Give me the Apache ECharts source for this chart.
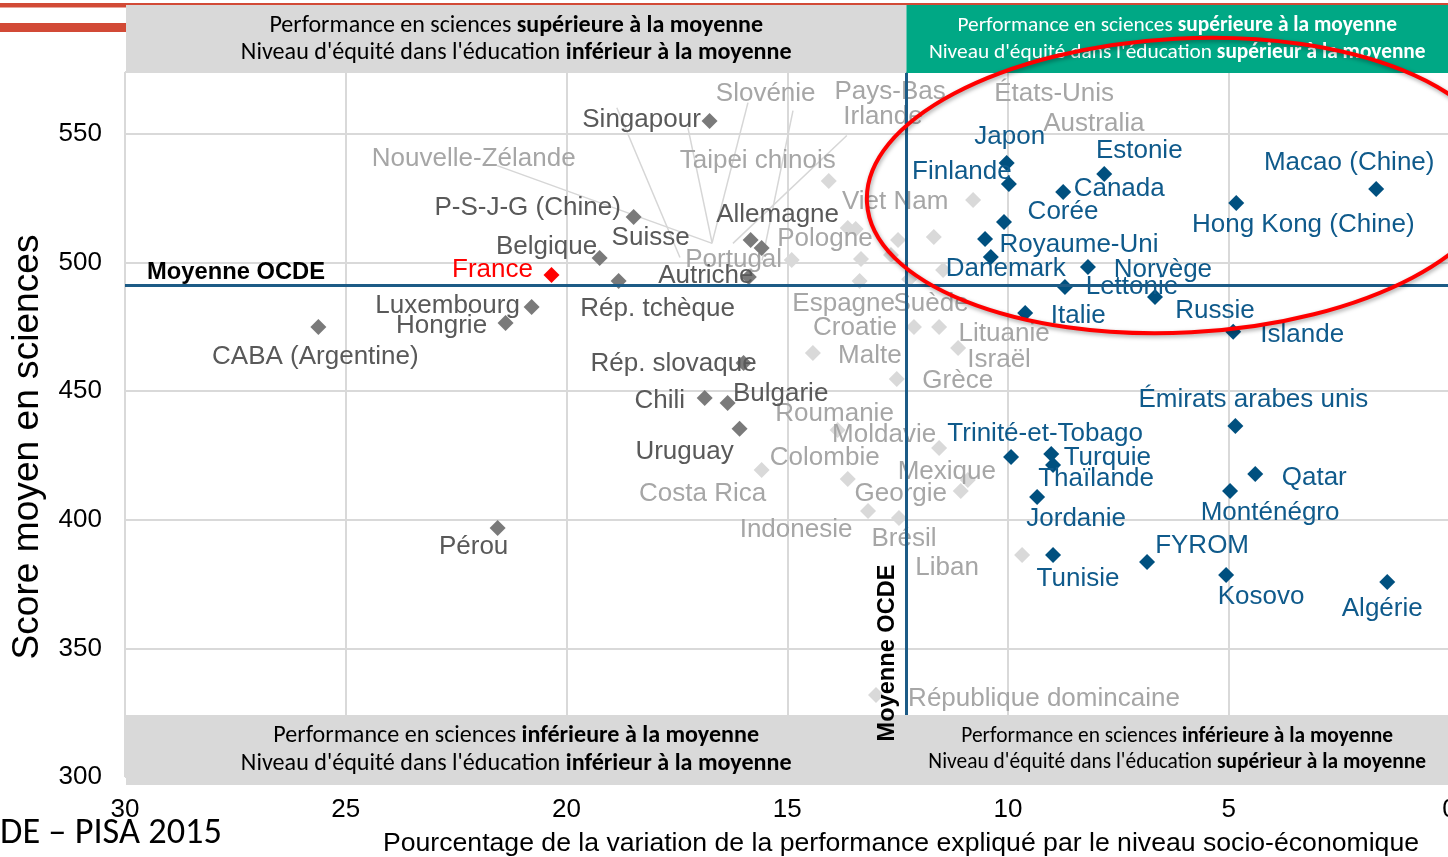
<!DOCTYPE html>
<html><head><meta charset="utf-8">
<script src="https://cdn.jsdelivr.net/npm/echarts@6/dist/echarts.min.js"></script>
<style>html,body{margin:0;padding:0;background:#fff;overflow:hidden}#c{width:1448px;height:857px}</style>
</head><body><div id="c"></div>
<script>
// ---------------- DATA ----------------
// x = % of science performance variation explained by socio-economic status, y = mean science score
const xTickMin = 0, xTickMax = 30, xTickStep = 5;
const yTickMin = 300, yTickMax = 574, yTickStep = 50;

const blueNames = ['Japon','Finlande','Estonie','Canada','Corée','Royaume-Uni','Danemark','Norvège','Lettonie','Russie','Italie','Islande','Hong Kong (Chine)','Macao (Chine)','Émirats arabes unis','Trinité-et-Tobago','Turquie','Thaïlande','Jordanie','Qatar','Monténégro','Tunisie','FYROM','Kosovo','Algérie'];
const blueX = [10.03,9.98,7.82,8.75,10.09,10.52,10.39,8.19,8.71,6.67,9.61,4.90,4.83,1.66,4.85,9.93,9.02,8.98,9.34,4.40,4.97,8.98,6.85,5.06,1.41];
const blueY = [538.6,530.5,534.4,527.4,515.7,509.1,502.1,498.2,490.4,486.6,480.3,473.0,523.1,528.5,436.4,424.4,425.5,421.3,408.8,417.8,411.2,386.3,383.6,378.5,375.8];

const darkNames = ['Singapour','P-S-J-G (Chine)','Belgique','Suisse','Allemagne','Autriche','Rép. tchèque','Luxembourg','Hongrie','CABA (Argentine)','Rép. slovaque','Chili','Bulgarie','Uruguay','Pérou'];
const darkX = [16.76,18.48,19.25,15.58,15.83,15.87,18.82,20.79,21.38,25.62,15.99,16.87,16.35,16.08,21.56];
const darkY = [555.0,517.6,501.7,505.6,508.7,494.3,492.8,482.7,476.4,474.9,460.9,447.3,445.4,435.3,396.8];

const lightNames = ['Taipei chinois','Nouvelle-Zélande','Slovénie','Portugal','Pologne','Pays-Bas','Irlande','Espagne','Suède','Viet Nam','Australia','États-Unis','Croatie','Lituanie','Israël','Malte','Grèce','Roumanie','Moldavie','Costa Rica','Colombie','Mexique','Georgie','Indonesie','Brésil','Liban','République domincaine'];
const lightX = [14.06,13.63,13.45,14.90,13.33,12.49,12.65,13.36,12.24,10.79,11.68,11.47,12.13,11.56,11.13,14.42,12.52,13.86,11.56,15.58,13.63,10.91,11.07,13.17,12.47,9.68,12.99];
const lightY = [531.6,513.4,513.0,500.9,501.3,508.7,502.9,492.8,493.5,524.3,509.9,497.0,474.9,474.9,466.7,464.8,454.7,434.9,427.9,419.3,415.8,415.4,411.2,403.4,400.7,386.3,331.9];

const franceNames = ['France'];
const franceX = [20.34];
const franceY = [495.1];

const oecdMeanX = 12.3;
const oecdMeanY = 491;

// annotation leader lines (data coordinates: label end -> target end)
const leaderLines = [
  [[21.57,537.6],[16.70,507.4]],
  [[18.86,560.1],[17.43,501.9]],
  [[17.25,552.4],[16.70,507.4]],
  [[15.89,562.1],[16.70,507.8]],
  [[14.87,559.0],[15.57,500.8]],
  [[13.65,549.3],[16.23,507.4]]
];

// ---------------- STYLE ----------------
const labelOffset = {
  'Japon':[3,-28],'Finlande':[-47,-14],'Estonie':[35,-25],'Canada':[56,-5],'Corée':[59,-12],'Royaume-Uni':[94,4],
  'Danemark':[15,10],'Norvège':[75,1],'Lettonie':[67,-2],'Russie':[60,12],'Italie':[53,1],'Islande':[69,1],
  'Hong Kong (Chine)':[67,20],'Macao (Chine)':[-27,-28],'Émirats arabes unis':[18,-28],'Trinité-et-Tobago':[34,-25],
  'Turquie':[56,2],'Thaïlande':[43,12],'Jordanie':[39,20],'Qatar':[59,2],'Monténégro':[40,20],'Tunisie':[25,22],
  'FYROM':[55,-18],'Kosovo':[35,20],'Algérie':[-5,25],
  'Singapour':[-68,-3],'P-S-J-G (Chine)':[-106,-11],'Belgique':[-53,-13],'Suisse':[-111,-12],'Allemagne':[27,-27],
  'Autriche':[-43,-3],'Rép. tchèque':[39,26],'Luxembourg':[-84,-3],'Hongrie':[-64,1],'CABA (Argentine)':[-3,28],
  'Rép. slovaque':[-70,-1],'Chili':[-45,1],'Bulgarie':[53,-11],'Uruguay':[-55,21],'Pérou':[-24,17],'France':[-59,-7],
  'Taipei chinois':[-71,-22],'Nouvelle-Zélande':[-374,-71],'Slovénie':[-90,-137],'Portugal':[-58,-2],'Pologne':[-36,-22],
  'Pays-Bas':[-8,-150],'Irlande':[-8,-140],'Espagne':[-16,21],'Suède':[22,23],'Viet Nam':[-78,0],'Australia':[160,-115],
  'États-Unis':[111,-178],'Croatie':[-59,-1],'Lituanie':[65,5],'Israël':[41,10],'Malte':[57,1],'Grèce':[61,0],
  'Roumanie':[-3,-18],'Moldavie':[-55,-15],'Costa Rica':[-59,22],'Colombie':[-23,-23],'Mexique':[-21,-10],
  'Georgie':[-60,1],'Indonesie':[-72,17],'Brésil':[5,19],'Liban':[-75,11],'République domincaine':[168,2]
};
const labelNudgeY = 2;

const SANS = "'Liberation Sans', Arial, sans-serif";
const BAND_FONT = "Carlito, Lato, 'Open Sans', sans-serif";

function mkSeries(name, names, xs, ys, markerColor, labelColor, z) {
  return {
    name: name, type: 'scatter', symbol: 'diamond', symbolSize: 16, z: z,
    itemStyle: { color: markerColor, opacity: 1 },
    label: { show: true, position: 'inside', formatter: '{b}', color: labelColor, fontSize: 26, fontFamily: SANS },
    emphasis: { disabled: true },
    data: names.map((n, i) => {
      const o = labelOffset[n] || [0, 0];
      return { name: n, value: [xs[i], ys[i]], label: { offset: [o[0], o[1] + labelNudgeY] } };
    })
  };
}

const chart = echarts.init(document.getElementById('c'), null, { renderer: 'canvas' });

const option = {
  animation: false,
  backgroundColor: '#ffffff',
  grid: { left: 125, right: -1.5, top: 72, bottom: 80, containLabel: false, outerBoundsMode: 'none' },
  xAxis: {
    type: 'value', inverse: true, min: xTickMin, max: xTickMax, interval: xTickStep,
    axisLine: { show: false }, axisTick: { show: false },
    axisLabel: { fontSize: 26, color: '#000', margin: 20, fontFamily: SANS },
    splitLine: { show: true, lineStyle: { color: '#d9d9d9', width: 2 } }
  },
  yAxis: {
    type: 'value', min: yTickMin, max: yTickMax, interval: yTickStep,
    axisLine: { show: true, lineStyle: { color: '#0070c0', width: 2 } }, axisTick: { show: false },
    axisLabel: { fontSize: 26, color: '#000', margin: 23, fontFamily: SANS, showMaxLabel: false },
    splitLine: { show: true, lineStyle: { color: '#d9d9d9', width: 2 } }
  },
  series: [
    {
      type: 'lines', coordinateSystem: 'cartesian2d', polyline: false, silent: true, z: 1,
      lineStyle: { color: '#d6d6d6', width: 1.5, opacity: 1 },
      data: leaderLines.map(l => ({ coords: l }))
    },
    {
      type: 'scatter', data: [], z: 1, silent: true,
      markLine: {
        silent: true, symbol: ['none', 'none'], label: { show: false },
        lineStyle: { color: '#1c5b86', width: 3, type: 'solid' },
        emphasis: { disabled: true },
        data: [{ yAxis: oecdMeanY }, { xAxis: oecdMeanX }]
      }
    },
    mkSeries('light', lightNames, lightX, lightY, '#d9d9d9', '#a6a6a6', 2),
    mkSeries('dark', darkNames, darkX, darkY, '#7a7a7a', '#595959', 3),
    mkSeries('blue', blueNames, blueX, blueY, '#00507f', '#0f5a8b', 4),
    mkSeries('france', franceNames, franceX, franceY, '#ff0000', '#ff0000', 5)
  ]
};
chart.setOption(option);

// ---------------- ANNOTATIONS (pixel layout) ----------------
const mctx = document.createElement('canvas').getContext('2d');
function tw(str, size, family, weight) { mctx.font = (weight || 'normal') + ' ' + size + 'px ' + family; return mctx.measureText(str).width; }
function fit(parts, target, family) {
  const w = parts.reduce((s, p) => s + tw(p[0], 100, family, p[1]), 0);
  return 100 * target / w;
}
function bandText(normal, bold, cx, cy, target, color) {
  const size = fit([[normal, 'normal'], [bold, 'bold']], target, BAND_FONT);
  return {
    type: 'text', x: cx, y: cy, z: 120, silent: true,
    style: {
      text: '{n|' + normal + '}{b|' + bold + '}', align: 'center', verticalAlign: 'middle',
      textAlign: 'center', textVerticalAlign: 'middle',
      rich: {
        n: { fontSize: size, fontFamily: BAND_FONT, fill: color, color: color },
        b: { fontSize: size, fontFamily: BAND_FONT, fontWeight: 'bold', fill: color, color: color }
      }
    }
  };
}
function plainText(str, cx, cy, target, family, weight, color, rot) {
  const size = fit([[str, weight]], target, family);
  return {
    type: 'text', x: cx, y: cy, z: 121, rotation: rot || 0, silent: true,
    style: { text: str, fontSize: size, fontFamily: family, fontWeight: weight, fill: color,
      align: 'center', verticalAlign: 'middle', textAlign: 'center', textVerticalAlign: 'middle' }
  };
}

const meanPx = chart.convertToPixel({ xAxisIndex: 0, yAxisIndex: 0 }, [oecdMeanX, oecdMeanY]);
const mx = meanPx[0], my = meanPx[1];
const W = 1448;
const gl = 126;
const topY = 5, topH = 68, botY = 715, botH = 70;
const leftC = (gl + mx) / 2, rightC = (mx + W) / 2;

const perf = 'Performance en sciences ';
const niv = "Niveau d'équité dans l'éducation ";

const graphics = [
  // slide decoration
  { type: 'rect', z: 90, silent: true, shape: { x: 0, y: 3, width: W, height: 2 }, style: { fill: '#d24a36' } },
  { type: 'rect', z: 90, silent: true, shape: { x: 0, y: 3, width: gl, height: 4.5 }, style: { fill: '#d24a36' } },
  { type: 'rect', z: 90, silent: true, shape: { x: 0, y: 23, width: gl, height: 9 }, style: { fill: '#d24a36' } },
  // quadrant bands
  { type: 'rect', z: 100, silent: true, shape: { x: gl, y: topY, width: mx - gl, height: topH }, style: { fill: '#d9d9d9' } },
  { type: 'rect', z: 100, silent: true, shape: { x: mx, y: topY, width: W - mx, height: topH }, style: { fill: '#00a885' } },
  { type: 'rect', z: 100, silent: true, shape: { x: gl, y: botY, width: W - gl, height: botH }, style: { fill: '#d9d9d9' } },
  bandText(perf, 'supérieure à la moyenne', leftC, 26, 494, '#000'),
  bandText(niv, 'inférieur à la moyenne', leftC, 53, 551, '#000'),
  bandText(perf, 'supérieure à la moyenne', rightC, 26, 440, '#ffffff'),
  bandText(niv, 'supérieur à la moyenne', rightC, 53, 497, '#ffffff'),
  bandText(perf, 'inférieure à la moyenne', leftC, 736, 486, '#000'),
  bandText(niv, 'inférieur à la moyenne', leftC, 764, 551, '#000'),
  bandText(perf, 'inférieure à la moyenne', rightC, 737, 432, '#000'),
  bandText(niv, 'supérieur à la moyenne', rightC, 763, 498, '#000'),
  // OECD mean labels
  plainText('Moyenne OCDE', 236, my - 13, 178, SANS, 'bold', '#000', 0),
  plainText('Moyenne OCDE', mx - 19, 653, 177, SANS, 'bold', '#000', Math.PI / 2),
  // axis titles
  plainText('Score moyen en sciences', 28, 447, 425, SANS, 'normal', '#000', Math.PI / 2),
  plainText('Pourcentage de la variation de la performance expliqué par le niveau socio-économique', 901, 844, 1037, SANS, 'normal', '#000', 0),
  // source (cut off on the left)
  plainText('DE – PISA 2015', 111, 834, 222, BAND_FONT, 'normal', '#000', 0),
  // red highlight ellipse
  {
    type: 'ellipse', z: 130, silent: true, x: 1183.5, y: 185.5, rotation: 0.053,
    shape: { cx: 0, cy: 0, rx: 317, ry: 147 },
    style: { fill: null, stroke: '#ff0000', lineWidth: 4, shadowBlur: 4, shadowColor: 'rgba(0,0,0,0.35)', shadowOffsetX: 1, shadowOffsetY: 2 }
  }
];
chart.setOption({ graphic: graphics });
</script>
</body></html>
